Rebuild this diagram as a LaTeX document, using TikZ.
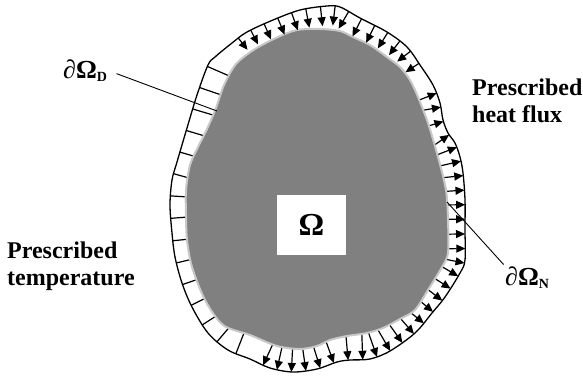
\documentclass[tikz,border=0pt]{standalone}
\usepackage{fontspec}
\setmainfont{Liberation Serif}
\usetikzlibrary{arrows.meta,decorations.markings}

\definecolor{bodygray}{RGB}{128,128,128}
\definecolor{rimgray}{RGB}{200,200,200}

\newcommand\subidx[1]{\raisebox{-3pt}{\fontsize{14}{14}\selectfont #1}}

\tikzset{
  outerline/.style={insert path={plot[smooth cycle, tension=0.55] coordinates {
    (215,57) (232,43) (247,32) (273,20) (300,10) (327,6) (340,7) (360,18)
    (387,32) (407,47) (420,65) (433,85) (440,103) (443,120) (448,133)
    (455,143) (460,157) (463,173) (465,200) (465,230) (465,260) (460,273)
    (445,297) (432,313) (415,333) (390,351) (370,359) (350,360) (337,362)
    (317,369) (293,372) (270,368) (250,359) (228,350) (208,333) (192,307)
    (182,283) (175,257) (172,233) (170,205) (172,180) (177,162) (187,128)
    (197,95) (208,65)}}},
  flux/.style={line width=1.2pt, -{Triangle[length=9pt,width=8pt]}},
  dirline/.style={line width=1.2pt},
  bodyfill/.style={fill=bodygray, draw=rimgray, line width=2pt},
  lbl/.style={font=\bfseries\fontsize{24}{27}\selectfont, inner sep=0pt, align=left},
  leader/.style={line width=0.9pt}
}

\begin{document}
\begin{tikzpicture}[x=1pt, y=-1pt]
\useasboundingbox (0,0) rectangle (583,376);

% outgoing flux and fixed temperature marks (tails hidden by the body)
\path[outerline, decorate, decoration={markings,
  mark=between positions 250pt and 688pt step 14.6pt with
    {\draw[flux] (0pt,-40pt) -- (0pt,0pt);},
  mark=between positions 703pt and 1040pt step 22.5pt with
    {\draw[dirline] (0pt,-40pt) -- (0pt,0pt);}}];

% the body
\filldraw[bodyfill] plot[smooth cycle, tension=0.5] coordinates {
  (297,30) (320,29) (340,31) (353,37) (370,45) (387,57) (400,67) (410,80)
  (418,97) (428,123) (438,157) (446,190) (448,220) (448,253) (442,267)
  (428,290) (415,310) (400,319) (383,328) (367,333) (347,336) (330,340)
  (317,346) (300,349) (277,346) (250,335) (223,325) (205,300) (192,267)
  (187,240) (186,215) (186,190) (190,165) (198,147) (207,129) (216,108)
  (224,85) (236,64) (255,49) (278,37)};

% incoming flux on top
\path[outerline, decorate, decoration={markings,
  mark=between positions 8pt and 230pt step 14.8pt with
    {\pgfmathsetmacro\arrlen{15+5*sin((\pgfkeysvalueof{/pgf/decoration/mark info/distance from start}-8)/222*180)}
     \draw[flux] (0pt,0pt) -- (0pt,-\arrlen pt);}}];

% boundary
\draw[line width=1.3pt, outerline];

% domain label
\node[fill=white, minimum width=69pt, minimum height=60pt, inner sep=0pt,
  font=\bfseries\fontsize{32}{32}\selectfont] (omega) at (311.5,225) {Ω};

% texts
\node[lbl, anchor=north west] (heatflux) at (472,79) {Prescribed\\heat flux};
\node[lbl, anchor=north west] (temp) at (7,242) {Prescribed\\temperature};
\node[lbl, anchor=base west, font=\bfseries\fontsize{26}{26}\selectfont] (dD) at (63,78) {∂Ω\subidx{D}};
\node[lbl, anchor=base west, font=\bfseries\fontsize{26}{26}\selectfont] (dN) at (505,285) {∂Ω\subidx{N}};

% leaders
\coordinate (dDfoot) at (217,111);
\coordinate (dNfoot) at (447,202);
\draw[leader, shorten <=10pt] (dD.east) -- (dDfoot);
\draw[leader, shorten >=2pt] (dNfoot) -- (dN.north west);

\end{tikzpicture}
\end{document}
